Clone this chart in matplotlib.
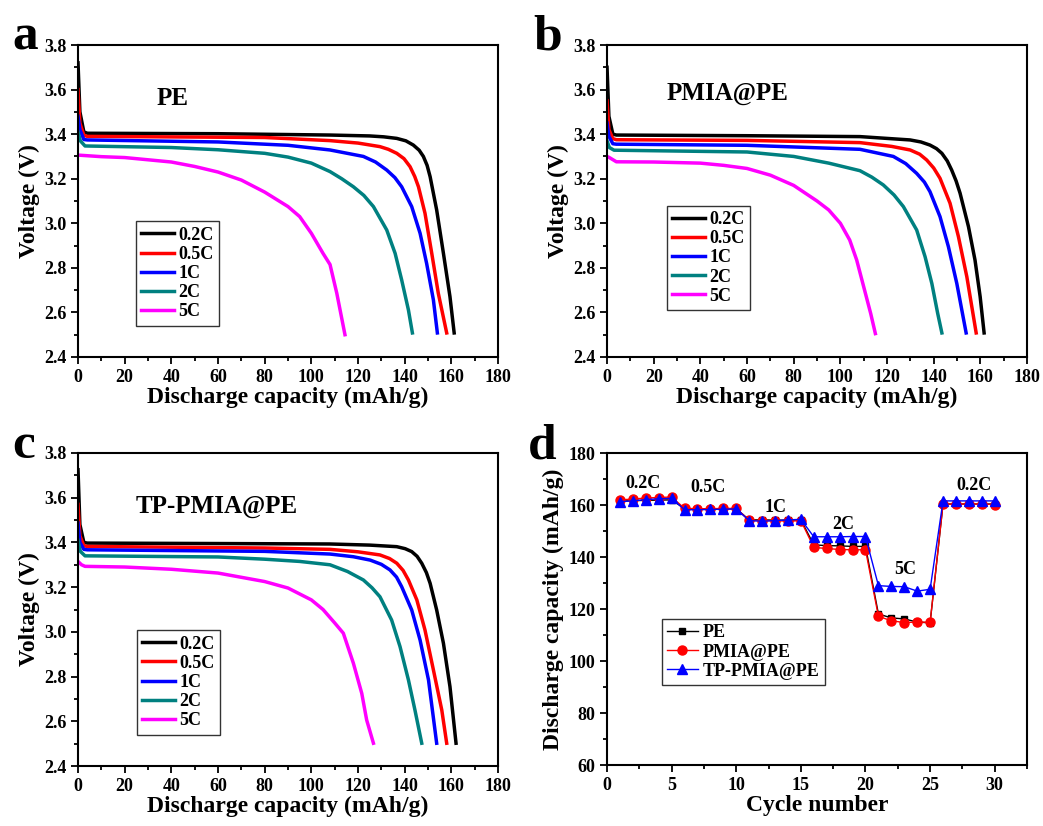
import matplotlib
matplotlib.use("Agg")
import matplotlib.pyplot as plt
from matplotlib.ticker import MultipleLocator

plt.rcParams['font.family'] = 'Liberation Serif'
plt.rcParams['font.weight'] = 'bold'
plt.rcParams['axes.labelweight'] = 'bold'

rates = ['0.2C', '0.5C', '1C', '2C', '5C']
rate_colors = ['#000000', '#FF0000', '#0000FF', '#008080', '#FF00FF']

# discharge curves: (capacity mAh/g, voltage V)
pe_02c = [(0, 3.72), (0.8, 3.50), (2.5, 3.41), (4, 3.404), (60, 3.402), (108, 3.396), (125, 3.392),
          (131, 3.388), (136.6, 3.381), (140.5, 3.370), (143.7, 3.351), (146.2, 3.328), (148, 3.30),
          (149.6, 3.26), (150.9, 3.209), (153.7, 3.06), (156.6, 2.865), (159.4, 2.671), (161.2, 2.508)]
pe_05c = [(0, 3.60), (0.8, 3.45), (2.5, 3.395), (4, 3.39), (80, 3.385), (108, 3.371), (120, 3.36),
          (129.4, 3.344), (133, 3.332), (136.6, 3.314), (139.7, 3.29), (142.3, 3.254), (144.3, 3.21),
          (145.9, 3.164), (148.7, 3.045), (151.6, 2.865), (154.4, 2.686), (158, 2.508)]
pe_1c = [(0, 3.48), (0.8, 3.42), (2.5, 3.376), (4, 3.374), (60, 3.365), (90, 3.35), (108, 3.329),
         (122.3, 3.30), (127.5, 3.275), (132.3, 3.239), (135.8, 3.205), (138.7, 3.164), (143, 3.075),
         (146.6, 2.955), (149.4, 2.82), (152.3, 2.656), (154, 2.508)]
pe_2c = [(0, 3.41), (1, 3.37), (3, 3.347), (40, 3.34), (60, 3.33), (80, 3.314), (90, 3.297),
         (100, 3.27), (108, 3.232), (113, 3.20), (118, 3.164), (122.5, 3.125), (126.6, 3.075),
         (132.3, 2.97), (135.9, 2.865), (138.7, 2.746), (141.6, 2.611), (143.3, 2.508)]
pe_5c = [(0, 3.306), (10, 3.299), (20, 3.295), (30, 3.285), (40, 3.275), (50, 3.255), (60, 3.23),
         (70, 3.194), (80, 3.14), (90, 3.075), (95, 3.03), (100, 2.955), (105, 2.865), (108, 2.815),
         (110.9, 2.686), (114.4, 2.50)]

pmia_02c = [(0, 3.70), (0.8, 3.48), (2.5, 3.40), (4, 3.396), (60, 3.393), (108.4, 3.389), (129.9, 3.374),
            (134.5, 3.365), (138.4, 3.351), (141.2, 3.335), (143.5, 3.314), (145.8, 3.28), (147.7, 3.239),
            (149.6, 3.19), (151.3, 3.135), (154.9, 2.985), (157.7, 2.835), (159.9, 2.671), (161.6, 2.508)]
pmia_05c = [(0, 3.55), (0.8, 3.42), (2.5, 3.38), (4, 3.375), (60, 3.372), (108.4, 3.362), (122, 3.345),
            (129.9, 3.329), (134, 3.31), (137, 3.284), (140, 3.248), (142.7, 3.202), (147, 3.09),
            (150.6, 2.94), (154.2, 2.76), (158.2, 2.508)]
pmia_1c = [(0, 3.45), (0.8, 3.39), (2.5, 3.357), (4, 3.355), (60, 3.35), (108.4, 3.332), (122.7, 3.30),
           (128, 3.268), (132.7, 3.224), (136, 3.185), (138.4, 3.142), (142.7, 3.03), (146.3, 2.895),
           (149.9, 2.73), (153.9, 2.508)]
pmia_2c = [(0, 3.37), (1, 3.34), (3, 3.328), (60, 3.32), (80, 3.30), (95, 3.27), (108.4, 3.236),
           (113.5, 3.207), (118.4, 3.172), (123, 3.127), (127, 3.075), (132.7, 2.97), (136.3, 2.85),
           (139.2, 2.73), (141.7, 2.596), (143.5, 2.508)]
pmia_5c = [(0, 3.30), (1, 3.295), (4, 3.276), (20, 3.275), (40, 3.27), (50, 3.26), (60, 3.246),
           (70, 3.216), (80, 3.17), (90, 3.10), (95, 3.06), (100, 3.00), (104, 2.925), (107, 2.835),
           (110, 2.715), (113, 2.595), (115, 2.505)]

tp_02c = [(0, 3.725), (0.8, 3.48), (2.5, 3.40), (4, 3.397), (60, 3.395), (108, 3.393), (125, 3.388),
          (136.6, 3.381), (140.2, 3.372), (143, 3.359), (145.3, 3.338), (147.3, 3.307), (149.3, 3.265),
          (150.9, 3.217), (153.7, 3.098), (156.6, 2.949), (159.4, 2.755), (162, 2.502)]
tp_05c = [(0, 3.57), (0.8, 3.43), (2.5, 3.385), (4, 3.382), (80, 3.375), (108, 3.369), (120, 3.358),
          (129.4, 3.344), (133.5, 3.328), (136.6, 3.307), (139.3, 3.275), (141.6, 3.232), (145.2, 3.143),
          (148.7, 3.008), (152.3, 2.83), (155.9, 2.65), (158, 2.502)]
tp_1c = [(0, 3.487), (0.8, 3.40), (2.5, 3.369), (4, 3.367), (80, 3.36), (108, 3.348), (118, 3.336),
         (125.2, 3.321), (130, 3.302), (133.7, 3.277), (136.5, 3.245), (138.7, 3.202), (143, 3.098),
         (146.6, 2.963), (150.2, 2.785), (153.7, 2.502)]
tp_2c = [(0, 3.41), (1, 3.36), (3, 3.34), (60, 3.335), (80, 3.325), (95, 3.315), (108, 3.30),
         (115.5, 3.27), (122.3, 3.232), (126, 3.197), (129.4, 3.157), (134.4, 3.053), (138, 2.934),
         (141.6, 2.785), (144.4, 2.65), (147.3, 2.502)]
tp_5c = [(0, 3.315), (1.5, 3.30), (3, 3.293), (20, 3.29), (40, 3.28), (60, 3.263), (80, 3.225),
         (90, 3.196), (100, 3.143), (105, 3.10), (110, 3.04), (113.7, 2.994), (118, 2.86), (121.6, 2.725),
         (123.7, 2.606), (126.6, 2.502)]

# rate capability
cycles = list(range(1, 31))
cap_pe = [161.5, 161.7, 161.8, 161.9, 162.0,
          158.6, 158.5, 158.5, 158.5, 158.6,
          154.3, 154.3, 154.2, 154.2, 154.3,
          144.7, 144.4, 144.3, 144.1, 144.1,
          118.1, 116.6, 116.2, 115.0, 114.7,
          160.4, 160.4, 160.4, 160.4, 160.4]
cap_pmia = [162.0, 162.3, 162.7, 162.9, 163.1,
            158.7, 158.6, 158.6, 158.7, 158.7,
            154.1, 154.0, 154.0, 153.8, 154.0,
            143.7, 143.3, 142.9, 142.8, 142.8,
            117.2, 115.5, 114.8, 115.0, 114.9,
            160.4, 160.4, 160.4, 160.4, 160.2]
cap_tp = [161.3, 161.6, 162.1, 162.4, 162.6,
          158.2, 158.2, 158.3, 158.4, 158.5,
          154.0, 153.8, 154.0, 154.3, 154.5,
          147.8, 147.8, 147.8, 147.9, 147.9,
          129.0, 128.7, 128.6, 126.9, 127.6,
          161.6, 161.6, 161.6, 161.6, 161.6]
step_labels = ['0.2C', '0.5C', '1C', '2C', '5C', '0.2C']
step_x = [2.8, 7.8, 13.0, 18.3, 23.1, 28.4]
step_y = [168.2, 166.8, 159.2, 152.7, 135.4, 167.4]


def style_axes(ax):
    for sp in ax.spines.values():
        sp.set_linewidth(1.5)
    ax.tick_params(which='both', direction='out', top=False, right=False, width=1.3, labelsize=13)
    ax.tick_params(which='major', length=5)
    ax.tick_params(which='minor', length=3)
    for lab in ax.get_xticklabels() + ax.get_yticklabels():
        lab.set_fontweight('bold')


def make_legend(ax, pos, hlen):
    leg = ax.legend(loc='lower left', bbox_to_anchor=pos, fontsize=13, frameon=True,
                    fancybox=False, edgecolor='black', handlelength=hlen, handletextpad=0.25,
                    labelspacing=0.12, borderpad=0.3, borderaxespad=0)
    leg.get_frame().set_linewidth(1.0)
    for t in leg.get_texts():
        t.set_fontweight('bold')


def voltage_panel(ax, curves, name, name_pos, leg_pos):
    for pts, lab, col in zip(curves, rates, rate_colors):
        ax.plot([p[0] for p in pts], [p[1] for p in pts], color=col, lw=2.5, label=lab,
                solid_joinstyle='round')
    ax.set_xlim(0, 180)
    ax.set_ylim(2.4, 3.8)
    ax.xaxis.set_major_locator(MultipleLocator(20))
    ax.xaxis.set_minor_locator(MultipleLocator(10))
    ax.yaxis.set_major_locator(MultipleLocator(0.2))
    ax.yaxis.set_minor_locator(MultipleLocator(0.1))
    ax.set_xlabel('Discharge capacity (mAh/g)', fontsize=17, labelpad=1)
    ax.set_ylabel('Voltage (V)', fontsize=17, labelpad=3)
    ax.text(name_pos[0], name_pos[1], name, transform=ax.transAxes, fontsize=18,
            fontweight='bold', ha='center', va='center')
    make_legend(ax, leg_pos, 1.8)
    style_axes(ax)


fig = plt.figure(figsize=(10.43, 8.26), dpi=100)
ax_a = fig.add_axes([0.0748, 0.5678, 0.4027, 0.3777])
ax_b = fig.add_axes([0.582, 0.5678, 0.4027, 0.3777])
ax_c = fig.add_axes([0.0748, 0.0726, 0.4027, 0.379])
ax_d = fig.add_axes([0.582, 0.0738, 0.4027, 0.3777])

voltage_panel(ax_a, [pe_02c, pe_05c, pe_1c, pe_2c, pe_5c], 'PE', (0.226, 0.83), (0.138, 0.10))
voltage_panel(ax_b, [pmia_02c, pmia_05c, pmia_1c, pmia_2c, pmia_5c], 'PMIA@PE', (0.288, 0.846), (0.142, 0.15))
voltage_panel(ax_c, [tp_02c, tp_05c, tp_1c, tp_2c, tp_5c], 'TP-PMIA@PE', (0.329, 0.83), (0.14, 0.10))

ax_d.plot(cycles, cap_pe, color='black', marker='s', ms=5, lw=1.0, label='PE')
ax_d.plot(cycles, cap_pmia, color='red', marker='o', ms=6.5, lw=1.0, label='PMIA@PE')
ax_d.plot(cycles, cap_tp, color='blue', marker='^', ms=6.5, lw=1.0, label='TP-PMIA@PE')
for lab, x, y in zip(step_labels, step_x, step_y):
    ax_d.text(x, y, lab, fontsize=13, fontweight='bold', ha='center', va='center')
ax_d.set_xlim(0, 32.5)
ax_d.set_ylim(60, 180)
ax_d.xaxis.set_major_locator(MultipleLocator(5))
ax_d.xaxis.set_minor_locator(MultipleLocator(2.5))
ax_d.yaxis.set_major_locator(MultipleLocator(20))
ax_d.yaxis.set_minor_locator(MultipleLocator(10))
ax_d.set_xlabel('Cycle number', fontsize=17, labelpad=1)
ax_d.set_ylabel('Discharge capacity (mAh/g)', fontsize=17, labelpad=3)
make_legend(ax_d, (0.13, 0.256), 1.7)
style_axes(ax_d)

# panel letters
fig.text(0.012, 0.94, 'a', fontsize=37, fontweight='bold', ha='left', va='baseline')
fig.text(0.511, 0.94, 'b', fontsize=37, fontweight='bold', ha='left', va='baseline')
fig.text(0.012, 0.445, 'c', fontsize=37, fontweight='bold', ha='left', va='baseline')
fig.text(0.506, 0.445, 'd', fontsize=37, fontweight='bold', ha='left', va='baseline')

fig.savefig('out.png', dpi=100)
